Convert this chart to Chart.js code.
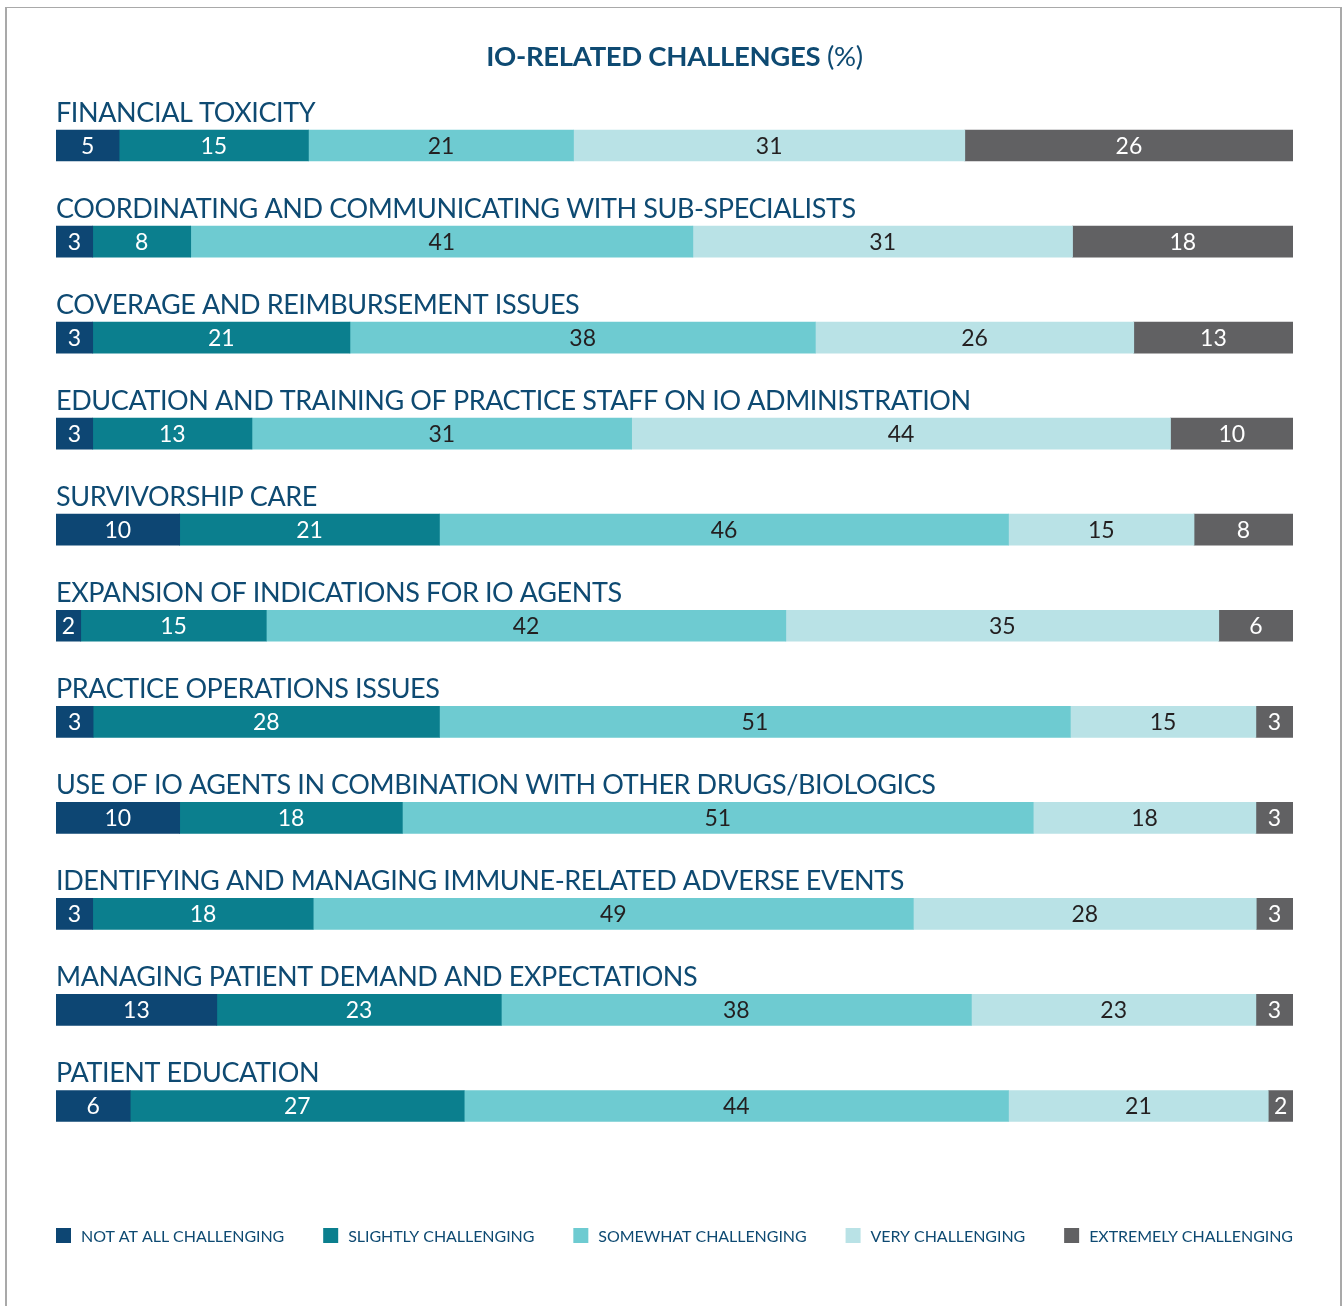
<!DOCTYPE html>
<html>
<head>
<meta charset="utf-8">
<script src="https://cdn.jsdelivr.net/npm/chart.js@4/dist/chart.umd.min.js"></script>
<style>
  html, body { margin: 0; padding: 0; background: #fff; }
  #wrap { position: relative; width: 1343px; height: 1306px; overflow: hidden; }
  #frame { position: absolute; left: 5px; top: 7px; width: 1333px; height: 1320px;
           border-left: 2px solid #a9a9a9; border-top: 1px solid #a9a9a9; border-right: 2px solid #a9a9a9; }
  canvas { position: absolute; left: 0; top: 0; }
</style>
</head>
<body>
<div id="wrap">
  <div id="frame"></div>
  <canvas id="c" width="1343" height="1306"></canvas>
</div>
<script>
const titleBold = "IO-RELATED CHALLENGES";
const titleRest = " (%)";
const categories = [
  "FINANCIAL TOXICITY",
  "COORDINATING AND COMMUNICATING WITH SUB-SPECIALISTS",
  "COVERAGE AND REIMBURSEMENT ISSUES",
  "EDUCATION AND TRAINING OF PRACTICE STAFF ON IO ADMINISTRATION",
  "SURVIVORSHIP CARE",
  "EXPANSION OF INDICATIONS FOR IO AGENTS",
  "PRACTICE OPERATIONS ISSUES",
  "USE OF IO AGENTS IN COMBINATION WITH OTHER DRUGS/BIOLOGICS",
  "IDENTIFYING AND MANAGING IMMUNE-RELATED ADVERSE EVENTS",
  "MANAGING PATIENT DEMAND AND EXPECTATIONS",
  "PATIENT EDUCATION"
];
const seriesNames = [
  "NOT AT ALL CHALLENGING",
  "SLIGHTLY CHALLENGING",
  "SOMEWHAT CHALLENGING",
  "VERY CHALLENGING",
  "EXTREMELY CHALLENGING"
];
const notAtAll   = [5, 3, 3, 3, 10, 2, 3, 10, 3, 13, 6];
const slightly   = [15, 8, 21, 13, 21, 15, 28, 18, 18, 23, 27];
const somewhat   = [21, 41, 38, 31, 46, 42, 51, 51, 49, 38, 44];
const very       = [31, 31, 26, 44, 15, 35, 15, 18, 28, 23, 21];
const extremely  = [26, 18, 13, 10, 8, 6, 3, 3, 3, 3, 2];

const colors = ["#0d4673", "#0b7f8e", "#6ecbd1", "#b9e2e6", "#616163"];
const valueTextColors = ["#ffffff", "#ffffff", "#231f20", "#231f20", "#ffffff"];
const TEXT = "#0e4a72";
const FONT = "Lato, 'Open Sans', sans-serif";

const raw = [notAtAll, slightly, somewhat, very, extremely];
const rowSums = categories.map((_, i) => raw.reduce((s, arr) => s + arr[i], 0));
const datasets = raw.map((arr, k) => ({
  label: seriesNames[k],
  data: arr.map((v, i) => v / rowSums[i] * 100),
  rawValues: arr,
  backgroundColor: colors[k],
  borderWidth: 0,
  barThickness: 31
}));

const overlay = {
  id: 'overlay',
  afterDatasetsDraw(chart) {
    const ctx = chart.ctx;
    const area = chart.chartArea;
    ctx.save();
    // values in bars
    ctx.font = "23px " + FONT;
    ctx.textAlign = 'center';
    ctx.textBaseline = 'middle';
    chart.data.datasets.forEach((ds, k) => {
      const meta = chart.getDatasetMeta(k);
      meta.data.forEach((el, i) => {
        ctx.fillStyle = valueTextColors[k];
        ctx.fillText(String(ds.rawValues[i]), (el.x + el.base) / 2, el.y + 1);
      });
    });
    // category labels above bars
    const meta0 = chart.getDatasetMeta(0);
    ctx.font = "27px " + FONT;
    ctx.letterSpacing = "-0.4px";
    ctx.textAlign = 'left';
    ctx.textBaseline = 'alphabetic';
    ctx.fillStyle = TEXT;
    meta0.data.forEach((el, i) => {
      ctx.fillText(chart.data.labels[i], area.left, el.y - 23.5);
    });
    // title
    ctx.letterSpacing = "-0.3px";
    ctx.font = "bold 27.5px " + FONT;
    const wb = ctx.measureText(titleBold).width;
    ctx.font = "27.5px " + FONT;
    const wr = ctx.measureText(titleRest).width;
    const cx = (area.left + area.right) / 2;
    let x0 = cx - (wb + wr) / 2;
    ctx.font = "bold 27.5px " + FONT;
    ctx.fillText(titleBold, x0, 66);
    ctx.font = "27.5px " + FONT;
    ctx.fillText(titleRest, x0 + wb, 66);
    // legend
    ctx.font = "16px " + FONT;
    ctx.letterSpacing = "-0.05px";
    const box = 15, gap = 10;
    const widths = seriesNames.map(n => box + gap + ctx.measureText(n).width);
    const total = widths.reduce((a, b) => a + b, 0);
    const spacing = (area.right - area.left - total) / (seriesNames.length - 1);
    let x = area.left;
    const ly = 1236;
    seriesNames.forEach((n, k) => {
      ctx.fillStyle = colors[k];
      ctx.fillRect(x, ly - 8, box, box);
      ctx.fillStyle = TEXT;
      ctx.textBaseline = 'middle';
      ctx.fillText(n, x + box + gap, ly + 1);
      x += widths[k] + spacing;
    });
    ctx.restore();
  }
};

new Chart(document.getElementById('c'), {
  type: 'bar',
  data: { labels: categories, datasets },
  options: {
    indexAxis: 'y',
    responsive: false,
    animation: false,
    layout: { padding: { left: 56, right: 50, top: 97.5, bottom: 152 } },
    scales: {
      x: { stacked: true, min: 0, max: 100, display: false },
      y: { stacked: true, display: false }
    },
    plugins: {
      legend: { display: false },
      title: { display: false },
      tooltip: { enabled: false }
    }
  },
  plugins: [overlay]
});
</script>
</body>
</html>
